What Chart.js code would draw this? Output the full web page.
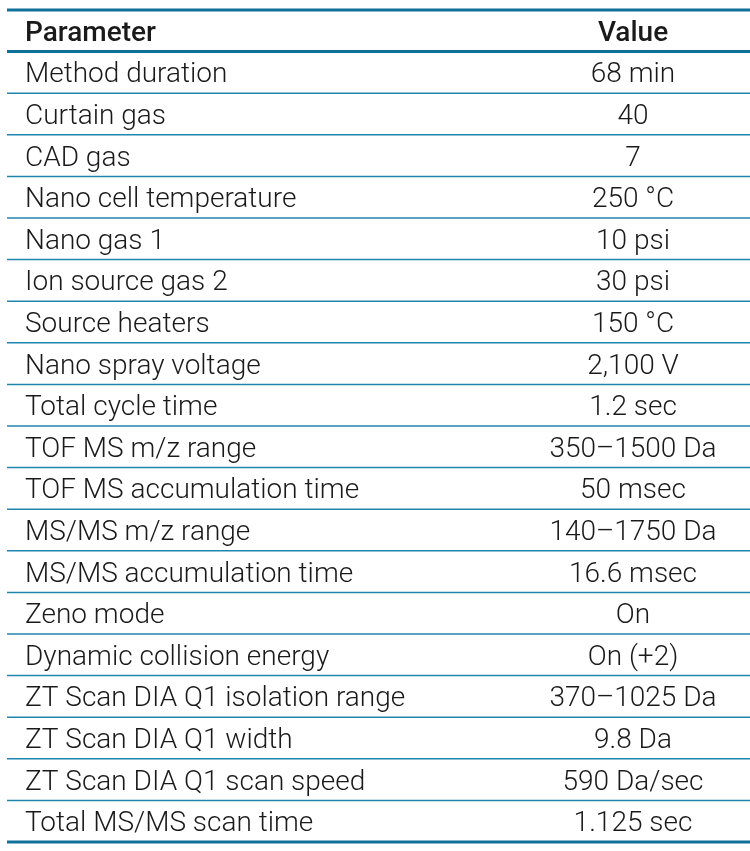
<!DOCTYPE html>
<html>
<head>
<meta charset="utf-8">
<script src="https://cdn.jsdelivr.net/npm/chart.js@4"></script>
<style>
  html, body { margin: 0; padding: 0; background: #fff; }
  #wrap { width: 750px; height: 851px; }
</style>
</head>
<body>
<div id="wrap"><canvas id="table-chart"></canvas></div>
<script>
// Table content
const headers = ['Parameter', 'Value'];
const parameters = [
  'Method duration', 'Curtain gas', 'CAD gas', 'Nano cell temperature', 'Nano gas 1',
  'Ion source gas 2', 'Source heaters', 'Nano spray voltage', 'Total cycle time',
  'TOF MS m/z range', 'TOF MS accumulation time', 'MS/MS m/z range',
  'MS/MS accumulation time', 'Zeno mode', 'Dynamic collision energy',
  'ZT Scan DIA Q1 isolation range', 'ZT Scan DIA Q1 width',
  'ZT Scan DIA Q1 scan speed', 'Total MS/MS scan time'
];
const values = [
  '68 min', '40', '7', '250 °C', '10 psi', '30 psi', '150 °C', '2,100 V', '1.2 sec',
  '350–1500 Da', '50 msec', '140–1750 Da', '16.6 msec', 'On', 'On (+2)',
  '370–1025 Da', '9.8 Da', '590 Da/sec', '1.125 sec'
];

const rowLabels = [headers[0]].concat(parameters);

// draws the rows on the y category scale
const tablePlugin = {
  id: 'tableRows',
  afterDraw(chart) {
    const { ctx, chartArea, scales: { y } } = chart;
    const left = 7, right = 750, valX = 633, textX = 25;
    const band = (chartArea.bottom - chartArea.top) / rowLabels.length;
    ctx.save();
    ctx.textBaseline = 'middle';
    rowLabels.forEach((lab, i) => {
      const cy = y.getPixelForValue(i);
      const isHead = i === 0;
      ctx.fillStyle = '#1a1a1a';
      ctx.font = (isHead ? '500 ' : '300 ') + '28px Roboto';
      ctx.textAlign = 'left';
      ctx.fillText(lab, textX, cy + 3);
      ctx.textAlign = 'center';
      ctx.fillText(isHead ? headers[1] : values[i - 1], valX, cy + 3);
      // bottom border of row
      const by = cy + band / 2;
      const thick = isHead || i === rowLabels.length - 1;
      ctx.strokeStyle = thick ? '#0f7199' : '#2186ae';
      ctx.lineWidth = thick ? 3 : 1.5;
      ctx.beginPath(); ctx.moveTo(left, by); ctx.lineTo(right, by); ctx.stroke();
    });
    // top border
    ctx.strokeStyle = '#0f7199';
    ctx.lineWidth = 3;
    ctx.beginPath(); ctx.moveTo(left, chartArea.top); ctx.lineTo(right, chartArea.top); ctx.stroke();
    ctx.restore();
  }
};

new Chart(document.getElementById('table-chart'), {
  type: 'bar',
  data: { labels: rowLabels, datasets: [{ data: [] }] },
  options: {
    responsive: true, maintainAspectRatio: false, animation: false,
    indexAxis: 'y',
    layout: { padding: { top: 10, bottom: 9, left: 0, right: 0 } },
    plugins: { legend: { display: false }, tooltip: { enabled: false } },
    scales: {
      y: { type: 'category', offset: true, display: false },
      x: { display: false, min: 0, max: 1 }
    }
  },
  plugins: [tablePlugin]
});
</script>
</body>
</html>
